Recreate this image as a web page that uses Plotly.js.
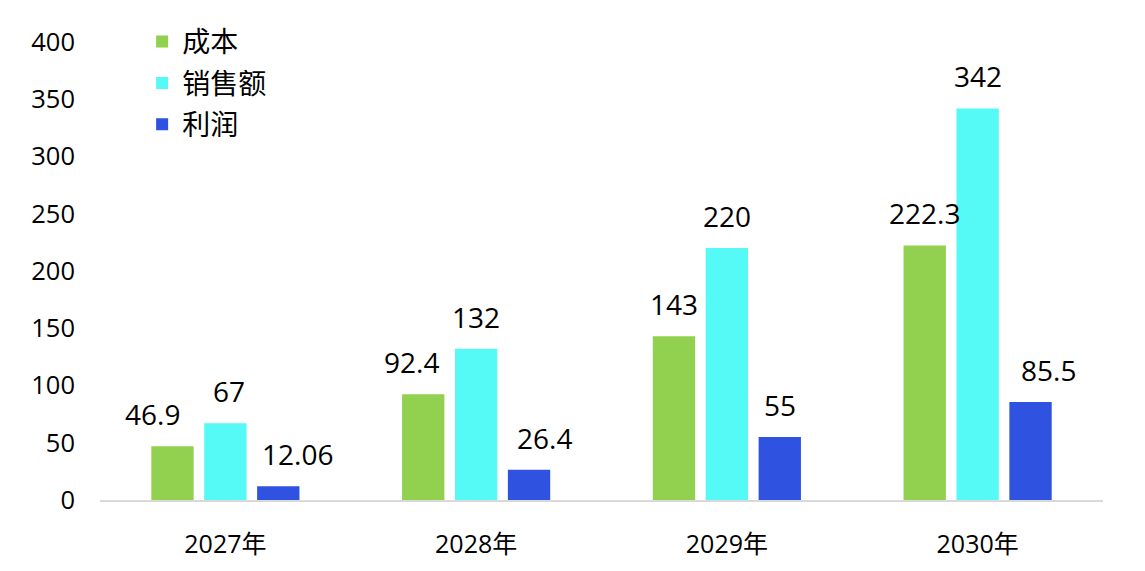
<!DOCTYPE html>
<html>
<head>
<meta charset="utf-8">
<script src="https://cdn.plot.ly/plotly-3.0.1.min.js"></script>
<style>
  html, body { margin: 0; padding: 0; background: #fff; }
  #chart { width: 1145px; height: 571px; }
</style>
</head>
<body>
<div id="chart"></div>
<script>
var years = ['2027年', '2028年', '2029年', '2030年'];
var cost = [46.9, 92.4, 143, 222.3];
var sales = [67, 132, 220, 342];
var profit = [12.06, 26.4, 55, 85.5];
var costLabels = ['46.9', '92.4', '143', '222.3'];
var salesLabels = ['67', '132', '220', '342'];
var profitLabels = ['12.06', '26.4', '55', '85.5'];

var FONT = '"Open Sans", "Noto Sans CJK SC", sans-serif';

var series = [
  { name: '成本', y: cost, labels: costLabels, color: '#92d050', nudge: [-20, -12, 0, 0] },
  { name: '销售额', y: sales, labels: salesLabels, color: '#55f9f6', nudge: [4, 0, 0, 0] },
  { name: '利润', y: profit, labels: profitLabels, color: '#2f52e0', nudge: [19, 15, 0, 18] }
];

var data = series.map(function (s, i) {
  return {
    type: 'bar',
    name: s.name,
    x: years,
    y: s.y,
    legendgroup: 'g' + i,
    marker: { color: s.color },
    hoverinfo: 'x+y+name'
  };
});

// value labels, placed above each bar
var slot = 53;
var annotations = [];
series.forEach(function (s, i) {
  s.y.forEach(function (v, j) {
    annotations.push({
      x: years[j],
      y: v,
      text: s.labels[j],
      showarrow: false,
      xshift: (i - 1) * slot + s.nudge[j],
      yshift: 32,
      yanchor: 'middle',
      font: { family: FONT, size: 28, color: '#000' }
    });
  });
});

var layout = {
  width: 1145,
  height: 571,
  margin: { l: 100, r: 42, t: 42, b: 71 },
  paper_bgcolor: '#fff',
  plot_bgcolor: '#fff',
  barmode: 'group',
  bargap: 0.367,
  bargroupgap: 0.2,
  font: { family: FONT, color: '#000' },
  showlegend: true,
  legend: {
    x: 0.042,
    y: 1.055,
    xanchor: 'left',
    yanchor: 'top',
    bgcolor: 'rgba(0,0,0,0)',
    font: { family: FONT, size: 28, color: '#000' },
    tracegroupgap: 2,
    itemwidth: 30
  },
  xaxis: {
    type: 'category',
    showline: true,
    linecolor: '#d9d9d9',
    linewidth: 2,
    showgrid: false,
    zeroline: false,
    ticks: '',
    ticklabelstandoff: 21,
    tickfont: { family: FONT, size: 25, color: '#000' }
  },
  yaxis: {
    range: [0, 400],
    dtick: 50,
    showline: false,
    showgrid: false,
    zeroline: false,
    ticks: '',
    ticklabelstandoff: 24,
    tickfont: { family: FONT, size: 25.5, color: '#000' }
  },
  annotations: annotations
};

Plotly.newPlot('chart', data, layout, { displayModeBar: false, staticPlot: true });
</script>
</body>
</html>
